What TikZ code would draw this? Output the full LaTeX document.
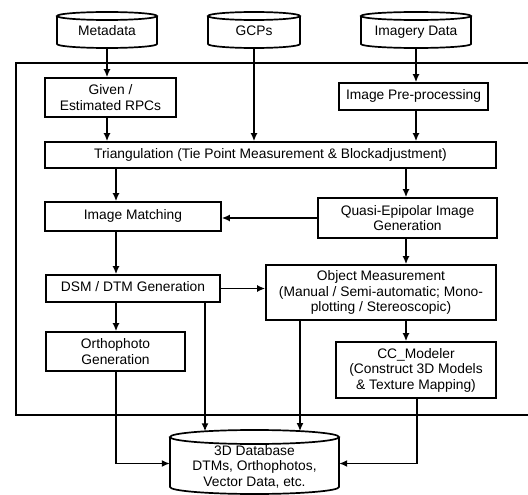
\documentclass[tikz,border=0pt]{standalone}
\usepackage{fontspec}
\setmainfont{Liberation Sans}
\usetikzlibrary{arrows.meta}
\newcommand{\drawcyl}[5]{%
  \draw[cylline] (#1-#4,-#2-#5) -- (#1-#4,-#3+#5)
    arc[start angle=180,end angle=360,x radius=#4pt,y radius=#5pt]
    -- (#1+#4,-#2-#5);
  \draw[cylline] (#1,-#2-#5) ellipse [x radius=#4pt,y radius=#5pt];
}
\begin{document}
\begin{tikzpicture}[x=1pt,y=1pt,
  font=\fontsize{13.8pt}{15.5pt}\selectfont,
  box/.style={draw, line width=1.7pt, inner sep=0pt, align=center},
  oneline/.style={text height=9.8pt, text depth=2.9pt},
  cylnode/.style={inner sep=0pt, align=center},
  cylline/.style={line width=1.7pt},
  frameline/.style={line width=1.7pt},
  arr/.style={line width=1.5pt, -{Latex[length=8pt,width=7pt]}}]
\useasboundingbox (0,0) rectangle (528,-495);

% outer frame (right side beyond the picture)
\draw[frameline] (528,-63) -- (16,-63) -- (16,-415) -- (528,-415);

% cylinders
\drawcyl{107}{12}{48}{50}{4}
\drawcyl{254}{12}{48}{46}{4}
\drawcyl{416}{12}{48}{55}{4}
\drawcyl{254.5}{430}{494}{84.5}{7}

\node[cylnode, oneline, minimum width=100pt, minimum height=32pt] (meta) at (107,-32) {Metadata};
\node[cylnode, oneline, minimum width=92pt, minimum height=32pt] (gcps) at (254,-32) {GCPs};
\node[cylnode, oneline, minimum width=110pt, minimum height=32pt] (img) at (416,-32) {Imagery Data};
\node[cylnode, minimum width=169pt, minimum height=57pt] (db) at (254.5,-466.5)
  {3D Database\\DTMs, Orthophotos,\\Vector Data, etc.};

% boxes
\node[box, minimum width=131pt, minimum height=39pt] (given) at (110.5,-97.5) {Given /\\Estimated RPCs};
\node[box, oneline, minimum width=149pt, minimum height=27pt] (pre) at (413.5,-96.5) {Image Pre-processing};
\node[box, oneline, minimum width=451pt, minimum height=26pt] (tri) at (270.5,-155)
  {Triangulation (Tie Point Measurement \& Blockadjustment)};
\node[box, oneline, minimum width=176pt, minimum height=29pt] (im) at (133,-216.5) {Image Matching};
\node[box, minimum width=179pt, minimum height=40pt] (quasi) at (407.5,-218) {Quasi-Epipolar Image\\Generation};
\node[box, oneline, minimum width=174pt, minimum height=27pt] (dsm) at (133,-288.5) {DSM / DTM Generation};
\node[box, minimum width=230pt, minimum height=55pt] (obj) at (381,-292.5)
  {Object Measurement\\(Manual / Semi-automatic; Mono-\\plotting / Stereoscopic)};
\node[box, minimum width=139pt, minimum height=39pt] (ortho) at (115.5,-351.5) {Orthophoto\\Generation};
\node[box, minimum width=160pt, minimum height=56pt] (cc) at (416,-370)
  {CC\_Modeler\\(Construct 3D Models\\\& Texture Mapping)};

% lanes
\coordinate (L1) at (116,0);
\coordinate (L2) at (406,0);
\coordinate (L3) at (205,0);
\coordinate (L4) at (300,0);
\coordinate (L5) at (417,0);
\coordinate (dbA) at (205,-431.3);
\coordinate (dbB) at (300,-431.1);

% connectors
\draw[arr] (meta.south) -- (meta.south |- given.north);
\draw[arr] (gcps.south) -- (gcps.south |- tri.north);
\draw[arr] (img.south) -- (img.south |- pre.north);
\draw[arr] (given.south -| meta.south) -- (tri.north -| meta.south);
\draw[arr] (pre.south -| img.south) -- (tri.north -| img.south);
\draw[arr] (tri.south -| L1) -- (im.north -| L1);
\draw[arr] (tri.south -| L2) -- (quasi.north -| L2);
\draw[arr] (quasi.west) -- (quasi.west -| im.east);
\draw[arr] (im.south -| L1) -- (dsm.north -| L1);
\draw[arr] (quasi.south -| L2) -- (obj.north -| L2);
\draw[arr] (dsm.east) -- (dsm.east -| obj.west);
\draw[arr] (dsm.south -| L1) -- (ortho.north -| L1);
\draw[arr] (obj.south -| L2) -- (cc.north -| L2);
\draw[arr] (dsm.south -| L3) -- (dbA);
\draw[arr] (obj.south -| L4) -- (dbB);
\draw[arr] (ortho.south -| L1) |- ([yshift=3pt]db.west);
\draw[arr] (cc.south -| L5) |- ([yshift=3pt]db.east);
\end{tikzpicture}
\end{document}
